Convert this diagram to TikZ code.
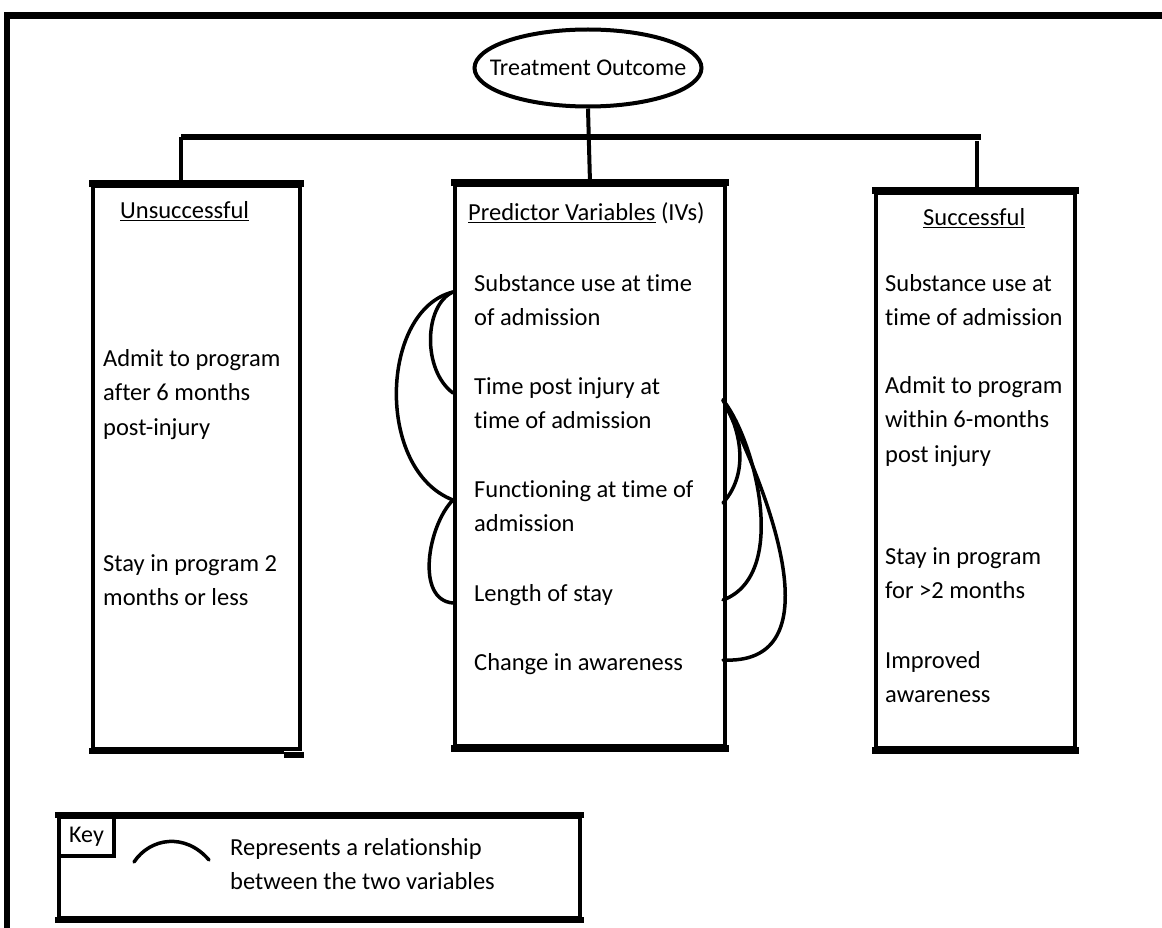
\documentclass[tikz,border=0pt]{standalone}
\usepackage{fontspec}
\setmainfont{Carlito}[Ligatures=NoCommon]
\usetikzlibrary{shapes.geometric,positioning}

\begin{document}
\begin{tikzpicture}[x=1pt,y=-1pt,
    box/.style={draw, line width=4pt, rectangle, anchor=north west, inner sep=0pt},
    hedge/.style={line width=7pt},
    txt/.style={anchor=north west, inner sep=0pt, align=left, font=\fontsize{24.5}{34.5}\selectfont},
    link/.style={line width=4pt},
    rel/.style={line width=3.5pt, line cap=round}]
  \useasboundingbox (0,0) rectangle (1162,928);

  % Frame
  \draw[line width=7pt] (4,16) -- (1162,16);
  \draw[line width=6pt] (7,13) -- (7,928);

  % Treatment outcome
  \node[draw, ellipse, line width=4pt, minimum width=227pt, minimum height=77pt, inner sep=0pt] (outcome) at (588,68) {};
  \node[font=\fontsize{24}{29}\selectfont, inner sep=0pt] (outcomeText) at (outcome) {Treatment Outcome};

  % Boxes
  \node[box, minimum width=207pt, minimum height=563pt] (unsucc) at (91,184) {};
  \node[box, minimum width=270pt, minimum height=561pt] (pred) at (453,183) {};
  \node[box, minimum width=199pt, minimum height=555pt] (succ) at (874,191) {};
  \foreach \b in {unsucc,pred,succ}
    \draw[hedge] ([xshift=-2pt]\b.north west) -- ([xshift=2pt]\b.north east);
  \foreach \b in {pred,succ}
    \draw[hedge] ([xshift=-2pt]\b.south west) -- ([xshift=2pt]\b.south east);
  \draw[line width=6pt] ([xshift=-2pt]unsucc.south west) -- ([xshift=-18pt]unsucc.south east)
    ++(0,4) -- ([xshift=2pt,yshift=-4pt]unsucc.south east);

  % Tree lines
  \coordinate (barL) at (181,137);
  \coordinate (barR) at (981,137);
  \coordinate (dropR) at (977,141);
  \draw[link] (outcome.south) -- (pred.north);
  \draw[line width=6pt] (barL) -- (barR);
  \draw[link] (barL) -- (barL |- unsucc.north);
  \draw[link] (dropR) -- (dropR |- succ.north);

  % Unsuccessful
  \node[txt] (unsuccHead) at (120,194) {\strut\underline{Unsuccessful}};
  \node[txt] (unsuccAdmit) at (103,342) {\strut Admit to program\\after 6 months\\post-injury};
  \node[txt] (unsuccStay) at (103,547) {\strut Stay in program 2\\months or less};

  % Predictor variables
  \node[txt] (predHead) at (468,196) {\strut\underline{Predictor Variables} (IVs)};
  \node[txt] (sub) at (474,267) {\strut Substance use at time\\of admission};
  \node[txt] (time) at (474,370) {\strut Time post injury at\\time of admission};
  \node[txt] (func) at (474,473) {\strut Functioning at time of\\admission};
  \node[txt] (len) at (474,577) {\strut Length of stay};
  \node[txt] (chg) at (474,646) {\strut Change in awareness};

  % Successful
  \node[txt] (succHead) at (923,201) {\strut\underline{Successful}};
  \node[txt] (succSub) at (885,267) {\strut Substance use at\\time of admission};
  \node[txt] (succAdmit) at (885,369) {\strut Admit to program\\within 6-months\\post injury};
  \node[txt] (succStay) at (885,540) {\strut Stay in program\\for >2 months};
  \node[txt] (succImpr) at (885,644) {\strut Improved\\awareness};

  % Relationships
  \coordinate (subL) at (453,292);
  \coordinate (timeL) at (453,393);
  \coordinate (funcL) at (453,500);
  \coordinate (lenL) at (453,603);
  \coordinate (timeR) at (723,400);
  \coordinate (funcR) at (723,503);
  \coordinate (lenR) at (723,600);
  \coordinate (chgR) at (723,660);
  \draw[rel] (subL) .. controls (424,305) and (422,370) .. (timeL);
  \draw[rel] (subL) .. controls (380,310) and (375,470) .. (funcL);
  \draw[rel] (funcL) .. controls (428,525) and (415,600) .. (lenL);
  \draw[rel] (timeR) .. controls (738,425) and (752,470) .. (funcR);
  \draw[rel] (timeR) .. controls (755,440) and (790,575) .. (lenR);
  \draw[rel] (timeR) .. controls (782,520) and (827,665) .. (chgR);

  % Key
  \node[box, minimum width=521pt, minimum height=101pt] (key) at (57,815) {};
  \draw[line width=6pt] ([xshift=-2pt]key.north west) -- ([xshift=2pt]key.north east)
    ([xshift=-2pt]key.south west) -- ([xshift=2pt]key.south east);
  \node[box, minimum width=55pt, minimum height=39pt] (keyLabel) at (57,815) {};
  \node[font=\fontsize{24}{29}\selectfont, inner sep=0pt] (keyText) at (keyLabel) {Key};
  \coordinate (keyA) at (134,862);
  \coordinate (keyB) at (209,860);
  \draw[rel] (keyA) .. controls (150,838) and (185,832) .. (keyB);
  \node[txt] (keyDesc) at (230,831) {\strut Represents a relationship\\between the two variables};
\end{tikzpicture}
\end{document}
